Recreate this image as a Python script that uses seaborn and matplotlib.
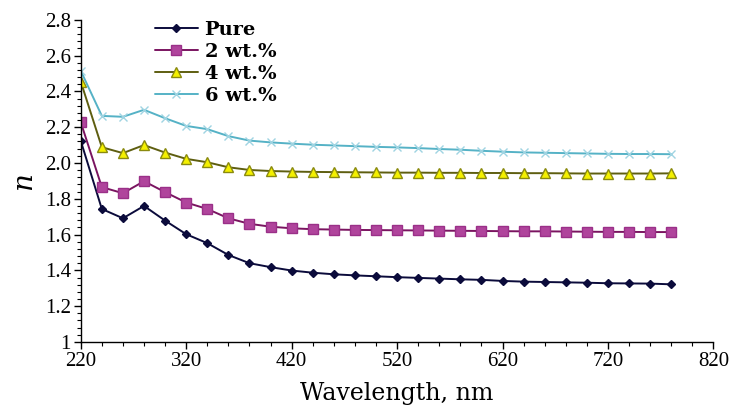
import numpy as np
import pandas as pd
import matplotlib
matplotlib.use("Agg")
import matplotlib.pyplot as plt
import seaborn as sns
from matplotlib.ticker import MultipleLocator

wavelength = [220, 240, 260, 280, 300, 320, 340, 360, 380, 400, 420, 440, 460, 480, 500,
              520, 540, 560, 580, 600, 620, 640, 660, 680, 700, 720, 740, 760, 780]

pure = [2.124, 1.743, 1.691, 1.760, 1.678, 1.602, 1.552, 1.486, 1.440, 1.418, 1.399, 1.387,
        1.378, 1.372, 1.367, 1.362, 1.358, 1.354, 1.350, 1.347, 1.341, 1.337, 1.335, 1.333,
        1.331, 1.328, 1.327, 1.326, 1.322]
wt2 = [2.228, 1.865, 1.831, 1.898, 1.837, 1.779, 1.743, 1.691, 1.660, 1.644, 1.635, 1.630,
       1.628, 1.626, 1.625, 1.624, 1.623, 1.622, 1.621, 1.620, 1.619, 1.618, 1.618, 1.617,
       1.616, 1.615, 1.615, 1.614, 1.614]
wt4 = [2.455, 2.088, 2.055, 2.100, 2.058, 2.023, 2.004, 1.976, 1.961, 1.955, 1.952, 1.950,
       1.949, 1.948, 1.947, 1.946, 1.946, 1.945, 1.945, 1.944, 1.944, 1.943, 1.943, 1.942,
       1.941, 1.941, 1.941, 1.941, 1.942]
wt6 = [2.515, 2.263, 2.258, 2.297, 2.250, 2.207, 2.189, 2.150, 2.125, 2.115, 2.108, 2.102,
       2.098, 2.094, 2.090, 2.087, 2.083, 2.078, 2.074, 2.068, 2.063, 2.059, 2.057, 2.055,
       2.053, 2.051, 2.050, 2.050, 2.049]

labels = ["Pure", "2 wt.%", "4 wt.%", "6 wt.%"]
xticks = [220, 320, 420, 520, 620, 720, 820]
yticks = [1, 1.2, 1.4, 1.6, 1.8, 2.0, 2.2, 2.4, 2.6, 2.8]
ytick_labels = ["1", "1.2", "1.4", "1.6", "1.8", "2.0", "2.2", "2.4", "2.6", "2.8"]

df = pd.DataFrame({"Wavelength": wavelength * 4,
                   "n": pure + wt2 + wt4 + wt6,
                   "sample": np.repeat(labels, len(wavelength))})

styles = {
    "Pure":   dict(color="#0b0b3b", marker="D", ms=4.5, mfc="#0b0b3b", mec="#0b0b3b"),
    "2 wt.%": dict(color="#7a1460", marker="s", ms=7, mfc="#b0449c", mec="#9a3088"),
    "4 wt.%": dict(color="#5e5e10", marker="^", ms=7, mfc="#f4f000", mec="#8a8a10"),
    "6 wt.%": dict(color="#55b2c6", marker="x", ms=6, mfc="#9fd4e2", mec="#9fd4e2"),
}

sns.set_style("white")
plt.rcParams["font.family"] = ["DejaVu Serif"]
plt.rcParams["text.color"] = "black"

fig = plt.figure(figsize=(7.34, 4.12), dpi=100)
ax = fig.add_axes([0.110, 0.170, 0.862, 0.782])

for lab in labels:
    s = styles[lab]
    sns.lineplot(data=df[df["sample"] == lab], x="Wavelength", y="n", ax=ax, label=lab,
                 color=s["color"], marker=s["marker"], markersize=s["ms"],
                 markerfacecolor=s["mfc"], markeredgecolor=s["mec"], markeredgewidth=1,
                 linewidth=1.4)

ax.set_xlim(220, 820)
ax.set_ylim(1, 2.8)
ax.set_xticks(xticks)
ax.set_xticklabels([str(v) for v in xticks])
ax.set_yticks(yticks)
ax.set_yticklabels(ytick_labels)
ax.xaxis.set_minor_locator(MultipleLocator(20))
ax.yaxis.set_minor_locator(MultipleLocator(0.04))

for sp in ["top", "right"]:
    ax.spines[sp].set_visible(False)
for sp in ["left", "bottom"]:
    ax.spines[sp].set_color("black")
    ax.spines[sp].set_linewidth(1)

ax.tick_params(which="both", bottom=True, left=True)
ax.tick_params(which="major", direction="out", length=5, width=1, color="black",
               labelsize=15, labelcolor="black", pad=2)
ax.tick_params(which="minor", direction="out", length=3, width=0.8, color="black")
for t in ax.get_xticklabels() + ax.get_yticklabels():
    t.set_fontfamily("Liberation Serif")

ax.set_xlabel("Wavelength, nm", fontsize=17, labelpad=8, color="black")
ax.set_ylabel("n", fontsize=20, style="italic", labelpad=6, color="black")

leg = ax.legend(loc="upper left", bbox_to_anchor=(0.105, 1.02), frameon=False,
                fontsize=14, handlelength=2.2, labelspacing=0.2, handletextpad=0.35,
                borderaxespad=0)
for t in leg.get_texts():
    t.set_color("black")
    t.set_fontweight("semibold")

fig.savefig("out.png", dpi=100)
